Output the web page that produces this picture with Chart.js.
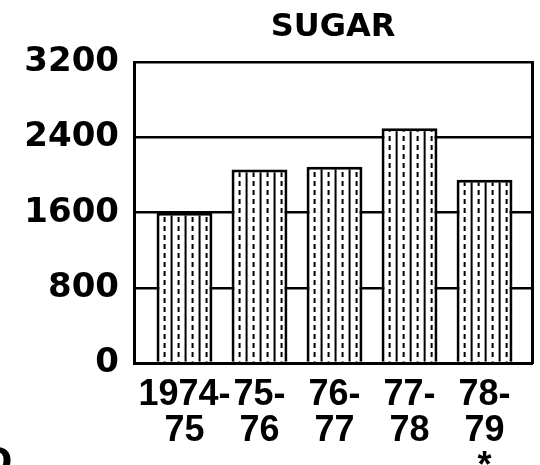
<!DOCTYPE html>
<html>
<head>
<meta charset="utf-8">
<script src="https://cdn.jsdelivr.net/npm/chart.js@4"></script>
<style>
  html, body { margin: 0; padding: 0; background: #fff; }
  #wrap { width: 540px; height: 465px; }
</style>
</head>
<body>
<div id="wrap"><canvas id="sugar"></canvas></div>
<script>
// data
const seasons = [['1974-', '75'], ['75-', '76'], ['76-', '77'], ['77-', '78'], ['78-', '79', '*']];
const sugar = [1600, 2060, 2090, 2500, 1950];
const yTicks = [0, 800, 1600, 2400, 3200];

const BAR_PCT = 0.745;

// vertical stripe fill: solid divider + dashed line, lined up on each bar
function stripes(ctx) {
  if (ctx.type !== 'data') return '#fff';
  const chart = ctx.chart;
  const xs = chart.scales.x;
  const step = xs.getPixelForValue(1) - xs.getPixelForValue(0);
  const left = xs.getPixelForValue(ctx.dataIndex) - (step * BAR_PCT) / 2;

  const c = document.createElement('canvas');
  c.width = 14;
  c.height = 9;
  const g = c.getContext('2d');
  g.fillStyle = '#fff';
  g.fillRect(0, 0, 14, 9);
  g.fillStyle = '#000';
  g.fillRect(0, 0, 2, 9);
  g.fillRect(7, 1, 2, 5);

  const p = chart.ctx.createPattern(c, 'repeat');
  p.setTransform(new DOMMatrix([1, 0, 0, 1, left, 0]));
  return p;
}

// stray letter cut off at the page corner
const cornerText = {
  id: 'cornerText',
  afterDraw(chart) {
    const c = chart.ctx;
    c.save();
    c.font = 'bold 36px "DejaVu Sans"';
    c.fillStyle = '#000';
    c.textAlign = 'center';
    c.textBaseline = 'middle';
    c.fillText('O', -3, 464);
    c.restore();
  },
};

const ctx = document.getElementById('sugar').getContext('2d');

new Chart(ctx, {
  type: 'bar',
  data: {
    datasets: [
      {
        data: sugar.map((v, i) => ({ x: i, y: v })),
        backgroundColor: stripes,
        borderColor: '#000',
        borderWidth: 3,
        borderSkipped: 'bottom',
        barPercentage: 1,
        categoryPercentage: BAR_PCT,
      },
    ],
  },
  options: {
    responsive: true,
    maintainAspectRatio: false,
    animation: false,
    layout: { padding: { left: 0, right: 8, top: 0, bottom: 0 } },
    plugins: {
      legend: { display: false },
      tooltip: { enabled: false },
      title: {
        display: true,
        text: 'SUGAR',
        fullSize: false,
        color: '#000',
        font: { family: 'DejaVu Sans', size: 32, weight: 'bold' },
        padding: { top: 8, bottom: 16 },
      },
    },
    scales: {
      x: {
        type: 'linear',
        offset: false,
        min: -0.673,
        max: 4.633,
        afterBuildTicks: (s) => {
          s.ticks = seasons.map((_, i) => ({ value: i }));
        },
        afterFit: (s) => {
          s.height = 102;
        },
        grid: { display: false, offset: false },
        border: { display: true, color: '#000', width: 3 },
        ticks: {
          color: '#000',
          padding: 6,
          maxRotation: 0,
          autoSkip: false,
          font: { family: 'Liberation Sans', size: 36, weight: 'bold', lineHeight: 1.0 },
          callback: (v) => seasons[v],
        },
      },
      y: {
        min: 0,
        max: 3200,
        afterBuildTicks: (s) => {
          s.ticks = yTicks.map((v) => ({ value: v }));
        },
        afterFit: (s) => {
          s.width = 134;
        },
        grid: { color: '#000', lineWidth: 2.5, drawTicks: false },
        border: { color: '#000', width: 3 },
        ticks: {
          color: '#000',
          padding: 15,
          font: { family: 'DejaVu Sans', size: 34, weight: 'bold' },
          callback: (v) => String(v),
        },
      },
      yRight: {
        position: 'right',
        afterFit: (s) => {
          s.width = 0;
        },
        grid: { display: false },
        border: { color: '#000', width: 3 },
        ticks: { display: false },
      },
    },
  },
  plugins: [cornerText],
});
</script>
</body>
</html>
